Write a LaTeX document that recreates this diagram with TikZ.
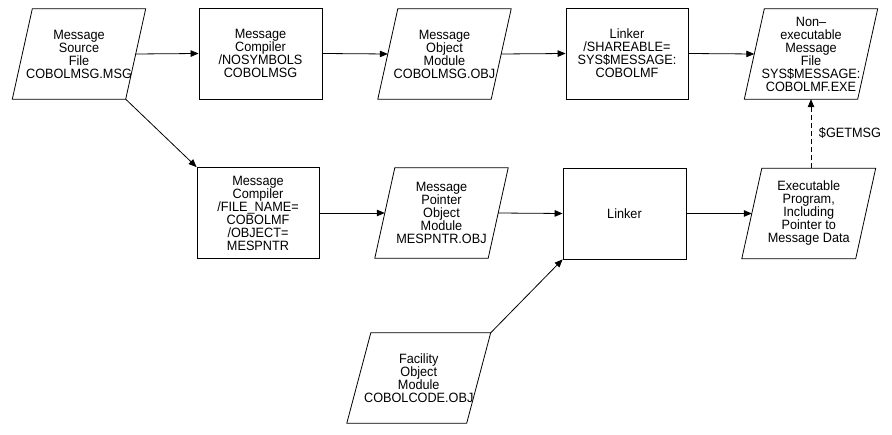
\documentclass[tikz,border=0pt]{standalone}
\usepackage{fontspec}
\setmainfont{Liberation Sans}[FakeStretch=0.94]
\usetikzlibrary{arrows.meta}
\tikzset{
  base/.style={line width=0.8pt, draw=black},
  txt/.style={align=center, inner sep=0pt, font=\fontsize{13.5}{13}\selectfont},
  procbox/.style={txt, draw, line width=0.8pt, minimum width=#1, minimum height=91pt},
  conn/.style={line width=0.8pt, -{Triangle[length=8pt,width=6.5pt]}},
  dconn/.style={conn, dash pattern=on 5pt off 3pt},
}
\newcommand\paranode[6]{%
  \node[txt, minimum width=#4pt, minimum height=90pt] (#1) at (#2,#3) {#6};
  \draw[base] ([xshift=-#5pt]#1.south west) -- ([xshift=-#5pt]#1.south east)
    -- ([xshift=#5pt]#1.north east) -- ([xshift=#5pt]#1.north west) -- cycle;
}
\begin{document}
\begin{tikzpicture}[x=1pt,y=-1pt]
\useasboundingbox (0,0) rectangle (892,435);
% top row
\paranode{p1}{79}{54}{113}{10}{Message\\Source\\File\\COBOLMSG.MSG}
\node[procbox=123pt] (b2) at (260.5,53.5) {Message\\Compiler\\/NOSYMBOLS\\COBOLMSG};
\paranode{p3}{444.5}{54}{113}{10}{Message\\Object\\Module\\COBOLMSG.OBJ}
\node[procbox=122pt] (b4) at (627,53.5) {Linker\\/SHAREABLE=\\SYS\$MESSAGE:\\COBOLMF};
\paranode{p5}{811}{54}{113}{10}{Non–\\executable\\Message\\File\\SYS\$MESSAGE:\\COBOLMF.EXE}
% middle row
\node[procbox=122pt] (b6) at (258,213) {Message\\Compiler\\/FILE\_NAME=\\COBOLMF\\/OBJECT=\\MESPNTR};
\paranode{p7}{441.5}{213}{113}{10}{Message\\Pointer\\Object\\Module\\MESPNTR.OBJ}
\node[procbox=123pt] (b8) at (624.5,213.5) {Linker};
\paranode{p9}{808.75}{213.5}{113.5}{10}{Executable\\Program,\\Including\\Pointer to\\Message Data}
% bottom
\paranode{p10}{418.75}{378}{119.5}{12}{Facility\\Object\\Module\\COBOLCODE.OBJ}
% connectors
\draw[conn] (p1.east) -- (b2.west);
\draw[conn] (b2.east) -- (p3.west);
\draw[conn] (p3.east) -- (b4.west);
\draw[conn] (b4.east) -- (p5.west);
\draw[conn] ([xshift=-10pt]p1.south east) -- (b6.north west);
\draw[conn] (b6.east) -- (p7.west);
\draw[conn] (p7.east) -- (b8.west);
\draw[conn] (b8.east) -- (p9.west);
\draw[conn] ([xshift=12pt]p10.north east) -- (b8.south west);
\draw[dconn] (p5.south |- p9.north) -- (p5.south);
\node[txt] (getmsg) at (850,133) {\$GETMSG};
\end{tikzpicture}
\end{document}
